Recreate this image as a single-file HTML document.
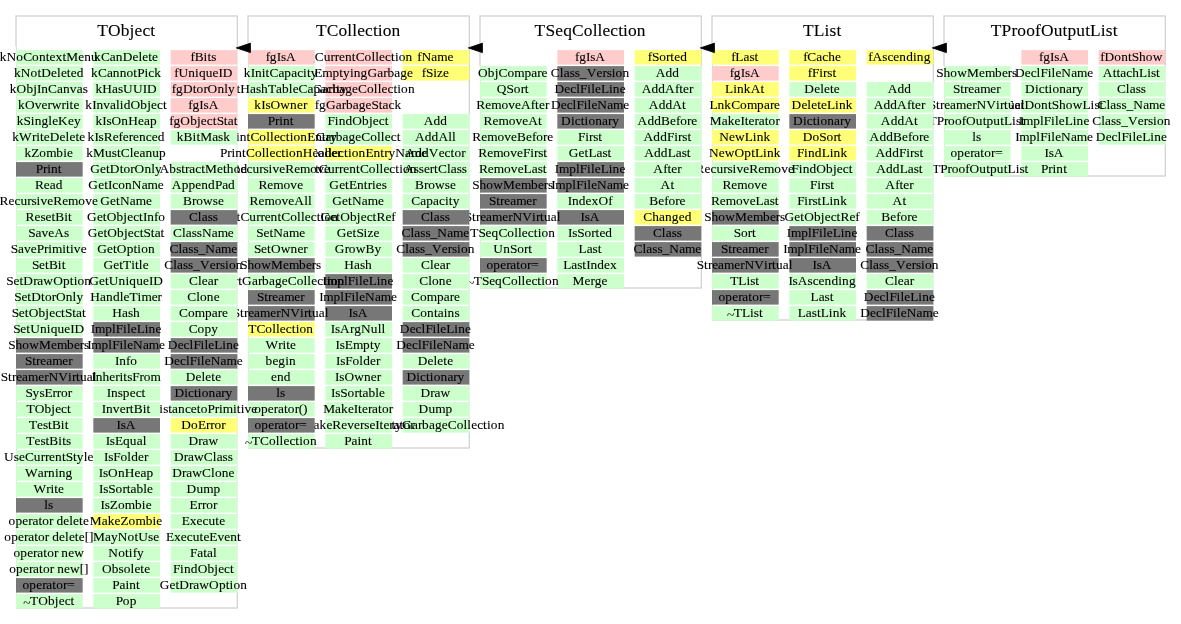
<!DOCTYPE html>
<html><head><meta charset="utf-8"><title>TProofOutputList inheritance chart</title>
<style>
html,body{margin:0;padding:0;background:#fff}
body{width:1181px;height:624px;overflow:hidden}
svg{display:block;font-family:"Liberation Serif","Times New Roman",Times,serif}
.g{fill:#ccffcc}.p{fill:#ffcccc}.y{fill:#ffff77}.d{fill:#777777}
.b{fill:none;stroke:#d3d3d3;stroke-width:1.333}
text{fill:#000;font-size:13.33px;white-space:pre;stroke:#000;stroke-width:0.1px}
.t{font-size:17.4px}
</style></head><body>
<svg width="1181" height="624" viewBox="0 0 1181 624">
<rect x="0" y="0" width="1181" height="624" fill="#fff"/>
<rect class="b" x="16" y="16" width="221.34" height="592"/>
<rect x="15" y="46.3" width="1" height="562.3" fill="#fff"/>
<rect x="237.34" y="49.8" width="1" height="542.8" fill="#fff"/>
<text class="t" x="97.17 107.98 120.76 129.61 134.53 142.39 150.25" y="35.7">TObject</text>
<rect class="b" x="248" y="16" width="221.34" height="432"/>
<rect x="247" y="46.3" width="1" height="402.3" fill="#fff"/>
<rect x="469.34" y="113.8" width="1" height="318.8" fill="#fff"/>
<text class="t" x="315.89 326.7 338.51 347.36 352.27 357.19 365.05 372.91 377.83 382.75 391.6" y="35.7">TCollection</text>
<rect class="b" x="480" y="16" width="221.34" height="272"/>
<rect x="479" y="65.8" width="1" height="222.8" fill="#fff"/>
<rect x="701.34" y="65.8" width="1" height="190.8" fill="#fff"/>
<text class="t" x="534.61 545.43 555.27 563.13 571.98 583.78 592.63 597.55 602.47 610.33 618.19 623.11 628.02 636.87" y="35.7">TSeqCollection</text>
<rect class="b" x="712" y="16" width="221.34" height="304"/>
<rect x="711" y="46.3" width="1" height="274.3" fill="#fff"/>
<rect x="933.34" y="81.8" width="1" height="238.8" fill="#fff"/>
<text class="t" x="802.99 813.81 824.62 829.54 836.43" y="35.7">TList</text>
<rect class="b" x="944" y="16" width="221.34" height="160"/>
<rect x="943" y="65.8" width="1" height="110.8" fill="#fff"/>
<rect x="1165.34" y="65.8" width="1" height="78.8" fill="#fff"/>
<text class="t" x="990.74 1001.56 1011.4 1017.29 1026.14 1034.99 1040.89 1053.67 1062.52 1067.44 1076.29 1085.14 1090.06 1100.87 1105.79 1112.68" y="35.7">TProofOutputList</text>
<g>
<rect class="p" x="1098.67" y="50.1" width="66.67" height="14.5"/><text x="1100.28 1104.5 1114.31 1121.15 1127.98 1131.83 1139.04 1145.87 1152.71" y="60.7">fDontShow</text>
<rect class="g" x="1098.67" y="66.1" width="66.67" height="14.5"/><text x="1102.83 1112.65 1116.5 1120.35 1126.31 1132.27 1139.1 1147.17 1151.03 1156.12" y="76.7">AttachList</text>
<rect class="g" x="1098.67" y="82.1" width="66.67" height="14.5"/><text x="1116.93 1125.87 1129.73 1135.69 1140.78" y="92.7">Class</text>
<rect class="g" x="1098.67" y="98.1" width="66.67" height="14.5"/><text x="1097.55 1106.5 1110.35 1116.31 1121.4 1126.5 1133.33 1143.15 1149.11 1159.29" y="108.7">Class_Name</text>
<rect class="g" x="1098.67" y="114.1" width="66.67" height="14.5"/><text x="1092.21 1101.15 1105.01 1110.97 1116.06 1121.15 1127.99 1137.8 1143.76 1147.98 1153.08 1156.93 1163.76" y="124.7">Class_Version</text>
<rect class="g" x="1098.67" y="130.1" width="66.67" height="14.5"/><text x="1095.81 1105.63 1111.59 1117.55 1121.4 1128.61 1132.46 1136.31 1142.27 1150.34 1154.2 1161.03" y="140.7">DeclFileLine</text>
</g>
<g>
<rect class="p" x="1021.33" y="50.1" width="66.67" height="14.5"/><text x="1038.98 1043.2 1050.03 1054.25 1059.34" y="60.7">fgIsA</text>
<rect class="g" x="1021.33" y="66.1" width="66.67" height="14.5"/><text x="1014.88 1024.7 1030.65 1036.61 1040.47 1047.67 1051.53 1055.38 1061.34 1071.15 1077.11 1087.3" y="76.7">DeclFileName</text>
<rect class="g" x="1021.33" y="82.1" width="66.67" height="14.5"/><text x="1025.06 1034.88 1038.73 1044.69 1048.54 1052.39 1059.23 1066.06 1072.02 1076.24" y="92.7">Dictionary</text>
<rect class="g" x="1021.33" y="98.1" width="66.67" height="14.5"/><text x="1004.81 1014.62 1020.58 1024.43 1034.25 1041.08 1047.92 1051.77 1058.98 1065.81 1072.64 1082.46 1090.53 1094.38 1099.48" y="108.7">GetDontShowList</text>
<rect class="g" x="1021.33" y="114.1" width="66.67" height="14.5"/><text x="1018.73 1022.95 1033.13 1039.97 1043.82 1051.03 1054.88 1058.73 1064.69 1072.76 1076.62 1083.45" y="124.7">ImplFileLine</text>
<rect class="g" x="1021.33" y="130.1" width="66.67" height="14.5"/><text x="1015.13 1019.35 1029.53 1036.37 1040.22 1047.43 1051.28 1055.13 1061.09 1070.9 1076.86 1087.05" y="140.7">ImplFileName</text>
<rect class="g" x="1021.33" y="146.1" width="66.67" height="14.5"/><text x="1044.5 1048.72 1053.82" y="156.7">IsA</text>
<rect class="g" x="1021.33" y="162.1" width="66.67" height="14.5"/><text x="1041.09 1048.29 1052.51 1056.37 1063.2" y="172.7">Print</text>
</g>
<g>
<rect class="g" x="944" y="66.1" width="66.67" height="14.5"/><text x="936.3 943.51 950.34 957.18 966.99 978.92 984.88 995.06 1001.9 1007.85 1012.07" y="76.7">ShowMembers</text>
<rect class="g" x="944" y="82.1" width="66.67" height="14.5"/><text x="952.95 960.16 964.01 968.23 974.19 980.15 990.34 996.3" y="92.7">Streamer</text>
<rect class="g" x="944" y="98.1" width="66.67" height="14.5"/><text x="928.85 936.06 939.91 944.13 950.09 956.05 966.24 972.2 976.42 986.23 996.05 999.9 1004.12 1007.97 1014.8 1020.76" y="108.7">StreamerNVirtual</text>
<rect class="g" x="944" y="114.1" width="66.67" height="14.5"/><text x="928.6 936.67 943.88 948.1 954.93 961.76 965.98 975.8 982.63 986.48 993.32 1000.15 1004 1012.07 1015.93 1021.02" y="124.7">TProofOutputList</text>
<rect class="g" x="944" y="130.1" width="66.67" height="14.5"/><text x="972.26 976.11" y="140.7">ls</text>
<rect class="g" x="944" y="146.1" width="66.67" height="14.5"/><text x="950.5 957.33 964.17 970.13 974.35 980.3 984.16 990.99 995.21" y="156.7">operator=</text>
<rect class="g" x="944" y="162.1" width="66.67" height="14.5"/><text x="925.24 932.15 940.22 947.43 951.65 958.48 965.32 969.54 979.35 986.18 990.04 996.87 1003.7 1007.56 1015.63 1019.48 1024.57" y="172.7"><tspan dy="1.9">~</tspan><tspan dy="-1.9">TProofOutputList</tspan></text>
</g>
<g>
<rect class="y" x="866.67" y="50.1" width="66.67" height="14.5"/><text x="868.29 872.51 882.32 887.41 893.37 899.33 906.17 913 916.85 923.68" y="60.7">fAscending</text>
<rect class="g" x="866.67" y="82.1" width="66.67" height="14.5"/><text x="887.66 897.48 904.31" y="92.7">Add</text>
<rect class="g" x="866.67" y="98.1" width="66.67" height="14.5"/><text x="873.63 883.44 890.28 897.11 906.92 911.14 915 920.95" y="108.7">AddAfter</text>
<rect class="g" x="866.67" y="114.1" width="66.67" height="14.5"/><text x="880.83 890.64 897.48 904.31 914.12" y="124.7">AddAt</text>
<rect class="g" x="866.67" y="130.1" width="66.67" height="14.5"/><text x="869.59 879.41 886.24 893.07 902.02 907.98 912.2 919.03 923.25" y="140.7">AddBefore</text>
<rect class="g" x="866.67" y="146.1" width="66.67" height="14.5"/><text x="875.55 885.36 892.2 899.03 906.24 910.09 914.31 919.4" y="156.7">AddFirst</text>
<rect class="g" x="866.67" y="162.1" width="66.67" height="14.5"/><text x="876.17 885.99 892.82 899.65 907.73 913.68 918.78" y="172.7">AddLast</text>
<rect class="g" x="866.67" y="178.1" width="66.67" height="14.5"/><text x="885.37 895.18 899.4 903.26 909.21" y="188.7">After</text>
<rect class="g" x="866.67" y="194.1" width="66.67" height="14.5"/><text x="892.57 902.38" y="204.7">At</text>
<rect class="g" x="866.67" y="210.1" width="66.67" height="14.5"/><text x="881.33 890.28 896.24 900.46 907.29 911.51" y="220.7">Before</text>
<rect class="d" x="866.67" y="226.1" width="66.67" height="14.5"/><text x="884.93 893.87 897.73 903.69 908.78" y="236.7">Class</text>
<rect class="d" x="866.67" y="242.1" width="66.67" height="14.5"/><text x="865.55 874.5 878.35 884.31 889.4 894.5 901.33 911.15 917.11 927.29" y="252.7">Class_Name</text>
<rect class="d" x="866.67" y="258.1" width="66.67" height="14.5"/><text x="860.21 869.15 873.01 878.97 884.06 889.15 895.99 905.8 911.76 915.98 921.08 924.93 931.76" y="268.7">Class_Version</text>
<rect class="g" x="866.67" y="274.1" width="66.67" height="14.5"/><text x="884.93 893.88 897.73 903.69 909.65" y="284.7">Clear</text>
<rect class="d" x="866.67" y="290.1" width="66.67" height="14.5"/><text x="863.82 873.63 879.59 885.55 889.4 896.61 900.46 904.31 910.27 918.34 922.2 929.03" y="300.7">DeclFileLine</text>
<rect class="d" x="866.67" y="306.1" width="66.67" height="14.5"/><text x="860.21 870.03 875.99 881.95 885.8 893.01 896.86 900.71 906.67 916.48 922.44 932.63" y="316.7">DeclFileName</text>
</g>
<g>
<rect class="y" x="789.33" y="50.1" width="66.67" height="14.5"/><text x="803.13 807.35 816.3 822.26 828.21 835.05" y="60.7">fCache</text>
<rect class="y" x="789.33" y="66.1" width="66.67" height="14.5"/><text x="807.84 812.06 819.27 823.12 827.34 832.44" y="76.7">fFirst</text>
<rect class="g" x="789.33" y="82.1" width="66.67" height="14.5"/><text x="804.37 814.18 820.14 824 829.95 833.81" y="92.7">Delete</text>
<rect class="y" x="789.33" y="98.1" width="66.67" height="14.5"/><text x="791.57 801.39 807.35 811.2 817.16 821.01 826.97 835.04 838.89 845.73" y="108.7">DeleteLink</text>
<rect class="d" x="789.33" y="114.1" width="66.67" height="14.5"/><text x="793.06 802.88 806.73 812.69 816.54 820.39 827.23 834.06 840.02 844.24" y="124.7">Dictionary</text>
<rect class="y" x="789.33" y="130.1" width="66.67" height="14.5"/><text x="802.69 812.5 819.34 826.54 833.38 837.6" y="140.7">DoSort</text>
<rect class="y" x="789.33" y="146.1" width="66.67" height="14.5"/><text x="796.91 804.12 807.97 814.8 821.64 829.71 833.56 840.39" y="156.7">FindLink</text>
<rect class="g" x="789.33" y="162.1" width="66.67" height="14.5"/><text x="791.57 798.78 802.63 809.46 816.3 826.11 832.94 836.8 842.76 848.71" y="172.7">FindObject</text>
<rect class="g" x="789.33" y="178.1" width="66.67" height="14.5"/><text x="809.95 817.16 821.01 825.23 830.33" y="188.7">First</text>
<rect class="g" x="789.33" y="194.1" width="66.67" height="14.5"/><text x="797.16 804.37 808.22 812.44 817.53 821.39 829.46 833.31 840.14" y="204.7">FirstLink</text>
<rect class="g" x="789.33" y="210.1" width="66.67" height="14.5"/><text x="784.56 794.37 800.33 804.18 814 820.83 824.68 830.64 836.6 840.45 849.4 855.36" y="220.7">GetObjectRef</text>
<rect class="d" x="789.33" y="226.1" width="66.67" height="14.5"/><text x="786.73 790.95 801.13 807.97 811.82 819.03 822.88 826.73 832.69 840.76 844.62 851.45" y="236.7">ImplFileLine</text>
<rect class="d" x="789.33" y="242.1" width="66.67" height="14.5"/><text x="783.13 787.35 797.53 804.37 808.22 815.43 819.28 823.13 829.09 838.9 844.86 855.05" y="252.7">ImplFileName</text>
<rect class="d" x="789.33" y="258.1" width="66.67" height="14.5"/><text x="812.5 816.72 821.82" y="268.7">IsA</text>
<rect class="g" x="789.33" y="274.1" width="66.67" height="14.5"/><text x="788.4 792.62 797.72 807.53 812.63 818.59 824.55 831.38 838.21 842.06 848.9" y="284.7">IsAscending</text>
<rect class="g" x="789.33" y="290.1" width="66.67" height="14.5"/><text x="810.58 818.65 824.61 829.7" y="300.7">Last</text>
<rect class="g" x="789.33" y="306.1" width="66.67" height="14.5"/><text x="797.78 805.86 811.81 816.91 820.76 828.83 832.69 839.52" y="316.7">LastLink</text>
</g>
<g>
<rect class="y" x="712" y="50.1" width="66.67" height="14.5"/><text x="731.14 735.36 743.43 749.39 754.48" y="60.7">fLast</text>
<rect class="p" x="712" y="66.1" width="66.67" height="14.5"/><text x="729.64 733.86 740.7 744.92 750.01" y="76.7">fgIsA</text>
<rect class="y" x="712" y="82.1" width="66.67" height="14.5"/><text x="725.11 733.18 737.03 743.86 750.7 760.51" y="92.7">LinkAt</text>
<rect class="y" x="712" y="98.1" width="66.67" height="14.5"/><text x="709.4 717.47 724.3 731.14 740.08 746.92 757.1 763.93 769.89 774.11" y="108.7">LnkCompare</text>
<rect class="g" x="712" y="114.1" width="66.67" height="14.5"/><text x="709.84 721.77 727.72 734.56 740.52 744.74 748.59 754.55 758.77 764.73 768.58 775.41" y="124.7">MakeIterator</text>
<rect class="y" x="712" y="130.1" width="66.67" height="14.5"/><text x="719.15 728.96 734.92 744.73 752.81 756.66 763.49" y="140.7">NewLink</text>
<rect class="y" x="712" y="146.1" width="66.67" height="14.5"/><text x="708.9 718.71 724.67 734.48 744.3 751.13 754.98 763.06 766.91 773.74" y="156.7">NewOptLink</text>
<rect class="g" x="712" y="162.1" width="66.67" height="14.5"/><text x="695.55 704.49 710.45 716.41 723.25 727.47 732.56 736.41 743.25 749.2 758.15 764.11 774.3 781.13 787.96" y="172.7">RecursiveRemove</text>
<rect class="g" x="712" y="178.1" width="66.67" height="14.5"/><text x="722.38 731.32 737.28 747.47 754.3 761.13" y="188.7">Remove</text>
<rect class="g" x="712" y="194.1" width="66.67" height="14.5"/><text x="710.89 719.83 725.79 735.98 742.81 749.65 755.6 763.68 769.64 774.73" y="204.7">RemoveLast</text>
<rect class="d" x="712" y="210.1" width="66.67" height="14.5"/><text x="704.3 711.51 718.34 725.18 734.99 746.92 752.88 763.06 769.9 775.85 780.07" y="220.7">ShowMembers</text>
<rect class="g" x="712" y="226.1" width="66.67" height="14.5"/><text x="733.68 740.89 747.72 751.94" y="236.7">Sort</text>
<rect class="d" x="712" y="242.1" width="66.67" height="14.5"/><text x="720.95 728.16 732.01 736.23 742.19 748.15 758.34 764.3" y="252.7">Streamer</text>
<rect class="d" x="712" y="258.1" width="66.67" height="14.5"/><text x="696.85 704.06 707.91 712.13 718.09 724.05 734.24 740.2 744.42 754.23 764.05 767.9 772.12 775.97 782.8 788.76" y="268.7">StreamerNVirtual</text>
<rect class="g" x="712" y="274.1" width="66.67" height="14.5"/><text x="730.26 738.34 746.41 750.26 755.35" y="284.7">TList</text>
<rect class="d" x="712" y="290.1" width="66.67" height="14.5"/><text x="718.5 725.33 732.17 738.13 742.35 748.3 752.16 758.99 763.21" y="300.7">operator=</text>
<rect class="g" x="712" y="306.1" width="66.67" height="14.5"/><text x="726.91 733.82 741.89 749.96 753.81 758.91" y="316.7"><tspan dy="1.9">~</tspan><tspan dy="-1.9">TList</tspan></text>
</g>
<g>
<rect class="y" x="634.67" y="50.1" width="66.67" height="14.5"/><text x="647.84 652.06 659.27 666.1 670.32 674.17 680.13" y="60.7">fSorted</text>
<rect class="g" x="634.67" y="66.1" width="66.67" height="14.5"/><text x="655.66 665.48 672.31" y="76.7">Add</text>
<rect class="g" x="634.67" y="82.1" width="66.67" height="14.5"/><text x="641.63 651.44 658.28 665.11 674.92 679.14 683 688.95" y="92.7">AddAfter</text>
<rect class="g" x="634.67" y="98.1" width="66.67" height="14.5"/><text x="648.83 658.64 665.48 672.31 682.12" y="108.7">AddAt</text>
<rect class="g" x="634.67" y="114.1" width="66.67" height="14.5"/><text x="637.59 647.41 654.24 661.07 670.02 675.98 680.2 687.03 691.25" y="124.7">AddBefore</text>
<rect class="g" x="634.67" y="130.1" width="66.67" height="14.5"/><text x="643.55 653.36 660.2 667.03 674.24 678.09 682.31 687.4" y="140.7">AddFirst</text>
<rect class="g" x="634.67" y="146.1" width="66.67" height="14.5"/><text x="644.17 653.99 660.82 667.65 675.73 681.68 686.78" y="156.7">AddLast</text>
<rect class="g" x="634.67" y="162.1" width="66.67" height="14.5"/><text x="653.37 663.18 667.4 671.26 677.21" y="172.7">After</text>
<rect class="g" x="634.67" y="178.1" width="66.67" height="14.5"/><text x="660.57 670.38" y="188.7">At</text>
<rect class="g" x="634.67" y="194.1" width="66.67" height="14.5"/><text x="649.33 658.28 664.24 668.46 675.29 679.51" y="204.7">Before</text>
<rect class="y" x="634.67" y="210.1" width="66.67" height="14.5"/><text x="643.3 652.25 659.08 665.04 671.87 678.71 684.67" y="220.7">Changed</text>
<rect class="d" x="634.67" y="226.1" width="66.67" height="14.5"/><text x="652.93 661.87 665.73 671.69 676.78" y="236.7">Class</text>
<rect class="d" x="634.67" y="242.1" width="66.67" height="14.5"/><text x="633.55 642.5 646.35 652.31 657.4 662.5 669.33 679.15 685.11 695.29" y="252.7">Class_Name</text>
</g>
<g>
<rect class="p" x="557.33" y="50.1" width="66.67" height="14.5"/><text x="574.98 579.2 586.03 590.25 595.34" y="60.7">fgIsA</text>
<rect class="d" x="557.33" y="66.1" width="66.67" height="14.5"/><text x="550.87 559.82 563.67 569.63 574.73 579.82 586.65 596.47 602.43 606.65 611.74 615.59 622.43" y="76.7">Class_Version</text>
<rect class="d" x="557.33" y="82.1" width="66.67" height="14.5"/><text x="554.48 564.3 570.26 576.21 580.07 587.27 591.13 594.98 600.94 609.01 612.86 619.7" y="92.7">DeclFileLine</text>
<rect class="d" x="557.33" y="98.1" width="66.67" height="14.5"/><text x="550.88 560.7 566.65 572.61 576.47 583.67 587.53 591.38 597.34 607.15 613.11 623.3" y="108.7">DeclFileName</text>
<rect class="d" x="557.33" y="114.1" width="66.67" height="14.5"/><text x="561.06 570.88 574.73 580.69 584.54 588.39 595.23 602.06 608.02 612.24" y="124.7">Dictionary</text>
<rect class="g" x="557.33" y="130.1" width="66.67" height="14.5"/><text x="577.95 585.16 589.01 593.23 598.33" y="140.7">First</text>
<rect class="g" x="557.33" y="146.1" width="66.67" height="14.5"/><text x="568.77 578.58 584.54 588.39 596.46 602.42 607.52" y="156.7">GetLast</text>
<rect class="d" x="557.33" y="162.1" width="66.67" height="14.5"/><text x="554.73 558.95 569.13 575.97 579.82 587.03 590.88 594.73 600.69 608.76 612.62 619.45" y="172.7">ImplFileLine</text>
<rect class="d" x="557.33" y="178.1" width="66.67" height="14.5"/><text x="551.13 555.35 565.53 572.37 576.22 583.43 587.28 591.13 597.09 606.9 612.86 623.05" y="188.7">ImplFileName</text>
<rect class="g" x="557.33" y="194.1" width="66.67" height="14.5"/><text x="567.71 571.93 578.76 585.6 591.56 598.39 608.2" y="204.7">IndexOf</text>
<rect class="d" x="557.33" y="210.1" width="66.67" height="14.5"/><text x="580.5 584.72 589.82" y="220.7">IsA</text>
<rect class="g" x="557.33" y="226.1" width="66.67" height="14.5"/><text x="567.96 572.18 577.27 584.48 591.31 595.53 599.39 605.34" y="236.7">IsSorted</text>
<rect class="g" x="557.33" y="242.1" width="66.67" height="14.5"/><text x="578.58 586.65 592.61 597.7" y="252.7">Last</text>
<rect class="g" x="557.33" y="258.1" width="66.67" height="14.5"/><text x="563.24 571.31 577.27 582.37 586.22 590.44 597.27 604.1 610.06" y="268.7">LastIndex</text>
<rect class="g" x="557.33" y="274.1" width="66.67" height="14.5"/><text x="572.62 584.55 590.51 594.73 601.56" y="284.7">Merge</text>
</g>
<g>
<rect class="g" x="480" y="66.1" width="66.67" height="14.5"/><text x="478.02 487.83 494.66 498.52 507.46 514.3 524.48 531.32 537.27 541.49" y="76.7">ObjCompare</text>
<rect class="g" x="480" y="82.1" width="66.67" height="14.5"/><text x="496.77 506.59 513.79 520.63 524.85" y="92.7">QSort</text>
<rect class="g" x="480" y="98.1" width="66.67" height="14.5"/><text x="476.34 485.29 491.25 501.43 508.27 515.1 521.06 530.87 535.09 538.95 544.91" y="108.7">RemoveAfter</text>
<rect class="g" x="480" y="114.1" width="66.67" height="14.5"/><text x="483.54 492.49 498.45 508.63 515.47 522.3 528.26 538.07" y="124.7">RemoveAt</text>
<rect class="g" x="480" y="130.1" width="66.67" height="14.5"/><text x="472.31 481.25 487.21 497.4 504.23 511.07 517.02 525.97 531.93 536.15 542.98 547.2" y="140.7">RemoveBefore</text>
<rect class="g" x="480" y="146.1" width="66.67" height="14.5"/><text x="478.26 487.21 493.17 503.35 510.19 517.02 522.98 530.19 534.04 538.26 543.35" y="156.7">RemoveFirst</text>
<rect class="g" x="480" y="162.1" width="66.67" height="14.5"/><text x="478.89 487.83 493.79 503.98 510.81 517.65 523.6 531.68 537.64 542.73" y="172.7">RemoveLast</text>
<rect class="d" x="480" y="178.1" width="66.67" height="14.5"/><text x="472.3 479.51 486.34 493.18 502.99 514.92 520.88 531.06 537.9 543.85 548.07" y="188.7">ShowMembers</text>
<rect class="d" x="480" y="194.1" width="66.67" height="14.5"/><text x="488.95 496.16 500.01 504.23 510.19 516.15 526.34 532.3" y="204.7">Streamer</text>
<rect class="d" x="480" y="210.1" width="66.67" height="14.5"/><text x="464.85 472.06 475.91 480.13 486.09 492.05 502.24 508.2 512.42 522.23 532.05 535.9 540.12 543.97 550.8 556.76" y="220.7">StreamerNVirtual</text>
<rect class="g" x="480" y="226.1" width="66.67" height="14.5"/><text x="470.31 478.38 485.59 491.55 498.38 507.33 514.16 518.02 521.87 527.83 533.79 537.64 541.49 548.32" y="236.7">TSeqCollection</text>
<rect class="g" x="480" y="242.1" width="66.67" height="14.5"/><text x="493.35 503.17 510 517.21 524.04 528.26" y="252.7">UnSort</text>
<rect class="d" x="480" y="258.1" width="66.67" height="14.5"/><text x="486.5 493.33 500.17 506.13 510.35 516.3 520.16 526.99 531.21" y="268.7">operator=</text>
<rect class="g" x="480" y="274.1" width="66.67" height="14.5"/><text x="466.96 473.87 481.94 489.15 495.1 501.94 510.88 517.72 521.57 525.42 531.38 537.34 541.19 545.04 551.88" y="284.7"><tspan dy="1.9">~</tspan><tspan dy="-1.9">TSeqCollection</tspan></text>
</g>
<g>
<rect class="y" x="402.67" y="50.1" width="66.67" height="14.5"/><text x="417.33 421.55 431.37 437.33 447.51" y="60.7">fName</text>
<rect class="y" x="402.67" y="66.1" width="66.67" height="14.5"/><text x="421.8 426.02 433.23 437.08 443.04" y="76.7">fSize</text>
<rect class="g" x="402.67" y="114.1" width="66.67" height="14.5"/><text x="423.66 433.48 440.31" y="124.7">Add</text>
<rect class="g" x="402.67" y="130.1" width="66.67" height="14.5"/><text x="414.9 424.72 431.55 438.38 448.2 452.05" y="140.7">AddAll</text>
<rect class="g" x="402.67" y="146.1" width="66.67" height="14.5"/><text x="405.34 415.16 421.99 428.82 438.64 444.6 450.56 454.41 461.24" y="156.7">AddVector</text>
<rect class="g" x="402.67" y="162.1" width="66.67" height="14.5"/><text x="403.91 413.73 418.82 423.91 429.87 434.09 437.95 446.89 450.74 456.7 461.8" y="172.7">AssertClass</text>
<rect class="g" x="402.67" y="178.1" width="66.67" height="14.5"/><text x="414.97 423.91 428.13 434.97 444.78 449.88" y="188.7">Browse</text>
<rect class="g" x="402.67" y="194.1" width="66.67" height="14.5"/><text x="411.3 420.25 426.21 433.04 439 444.96 448.81 452.67" y="204.7">Capacity</text>
<rect class="d" x="402.67" y="210.1" width="66.67" height="14.5"/><text x="420.93 429.87 433.73 439.69 444.78" y="220.7">Class</text>
<rect class="d" x="402.67" y="226.1" width="66.67" height="14.5"/><text x="401.55 410.5 414.35 420.31 425.4 430.5 437.33 447.15 453.11 463.29" y="236.7">Class_Name</text>
<rect class="d" x="402.67" y="242.1" width="66.67" height="14.5"/><text x="396.21 405.15 409.01 414.97 420.06 425.15 431.99 441.8 447.76 451.98 457.08 460.93 467.76" y="252.7">Class_Version</text>
<rect class="g" x="402.67" y="258.1" width="66.67" height="14.5"/><text x="420.93 429.88 433.73 439.69 445.65" y="268.7">Clear</text>
<rect class="g" x="402.67" y="274.1" width="66.67" height="14.5"/><text x="419.19 428.14 431.99 438.82 445.65" y="284.7">Clone</text>
<rect class="g" x="402.67" y="290.1" width="66.67" height="14.5"/><text x="410.93 419.88 426.71 436.9 443.73 449.69 453.91" y="300.7">Compare</text>
<rect class="g" x="402.67" y="306.1" width="66.67" height="14.5"/><text x="411.3 420.25 427.08 433.91 437.76 443.72 447.58 454.41" y="316.7">Contains</text>
<rect class="d" x="402.67" y="322.1" width="66.67" height="14.5"/><text x="399.82 409.63 415.59 421.55 425.4 432.61 436.46 440.31 446.27 454.34 458.2 465.03" y="332.7">DeclFileLine</text>
<rect class="d" x="402.67" y="338.1" width="66.67" height="14.5"/><text x="396.21 406.03 411.99 417.95 421.8 429.01 432.86 436.71 442.67 452.48 458.44 468.63" y="348.7">DeclFileName</text>
<rect class="g" x="402.67" y="354.1" width="66.67" height="14.5"/><text x="417.7 427.52 433.48 437.33 443.29 447.14" y="364.7">Delete</text>
<rect class="d" x="402.67" y="370.1" width="66.67" height="14.5"/><text x="406.4 416.21 420.06 426.02 429.87 433.73 440.56 447.39 453.35 457.57" y="380.7">Dictionary</text>
<rect class="g" x="402.67" y="386.1" width="66.67" height="14.5"/><text x="420.5 430.31 434.53 440.49" y="396.7">Draw</text>
<rect class="g" x="402.67" y="402.1" width="66.67" height="14.5"/><text x="418.57 428.38 435.22 445.4" y="412.7">Dump</text>
<rect class="g" x="402.67" y="418.1" width="66.67" height="14.5"/><text x="366.34 374.41 384.6 391.43 395.28 402.11 411.93 417.89 422.11 428.94 434.9 441.73 447.69 456.64 463.47 467.32 471.18 477.14 483.09 486.95 490.8 497.63" y="428.7">EmptyGarbageCollection</text>
</g>
<g>
<rect class="p" x="325.33" y="50.1" width="66.67" height="14.5"/><text x="303.72 307.94 314.78 323.72 330.56 334.78 339 344.95 351.79 355.64 364.59 371.42 375.27 379.12 385.08 391.04 394.89 398.75 405.58" y="60.7">fgCurrentCollection</text>
<rect class="p" x="325.33" y="66.1" width="66.67" height="14.5"/><text x="303.1 307.32 314.16 322.23 332.42 339.25 343.1 349.93 353.79 360.62 367.45 377.27 383.23 387.45 394.28 400.24 407.07" y="76.7">fgEmptyingGarbage</text>
<rect class="p" x="325.33" y="82.1" width="66.67" height="14.5"/><text x="301.37 305.59 312.42 322.23 328.19 332.41 339.25 345.2 352.04 358 366.94 373.78 377.63 381.48 387.44 393.4 397.25 401.1 407.94" y="92.7">fgGarbageCollection</text>
<rect class="p" x="325.33" y="98.1" width="66.67" height="14.5"/><text x="314.85 319.07 325.9 335.71 341.67 345.89 352.73 358.69 365.52 371.48 378.69 382.54 388.5 394.46" y="108.7">fgGarbageStack</text>
<rect class="g" x="325.33" y="114.1" width="66.67" height="14.5"/><text x="327.57 334.78 338.63 345.46 352.3 362.11 368.94 372.8 378.76 384.71" y="124.7">FindObject</text>
<rect class="g" x="325.33" y="130.1" width="66.67" height="14.5"/><text x="315.65 325.47 331.43 335.65 342.48 348.44 355.27 361.23 370.18 377.01 380.86 384.71 390.67 396.63" y="140.7">GarbageCollect</text>
<rect class="y" x="325.33" y="146.1" width="66.67" height="14.5"/><text x="289 298.82 304.78 308.63 317.58 324.41 328.26 332.11 338.07 344.03 347.88 351.74 358.57 365.4 373.48 380.31 384.16 388.38 395.21 405.03 410.99 421.17" y="156.7">GetCollectionEntryName</text>
<rect class="g" x="325.33" y="162.1" width="66.67" height="14.5"/><text x="299.44 309.25 315.21 319.06 328.01 334.84 339.06 343.28 349.24 356.07 359.93 368.87 375.71 379.56 383.41 389.37 395.33 399.18 403.03 409.87" y="172.7">GetCurrentCollection</text>
<rect class="g" x="325.33" y="178.1" width="66.67" height="14.5"/><text x="329.31 339.13 345.09 348.94 357.01 363.84 367.7 371.92 375.77 381.73" y="188.7">GetEntries</text>
<rect class="g" x="325.33" y="194.1" width="66.67" height="14.5"/><text x="332.3 342.11 348.07 351.92 361.74 367.7 377.88" y="204.7">GetName</text>
<rect class="g" x="325.33" y="210.1" width="66.67" height="14.5"/><text x="320.56 330.37 336.33 340.18 350 356.83 360.68 366.64 372.6 376.45 385.4 391.36" y="220.7">GetObjectRef</text>
<rect class="g" x="325.33" y="226.1" width="66.67" height="14.5"/><text x="336.77 346.58 352.54 356.39 363.6 367.45 373.41" y="236.7">GetSize</text>
<rect class="g" x="325.33" y="242.1" width="66.67" height="14.5"/><text x="334.84 344.65 348.87 355.7 365.52 374.47" y="252.7">GrowBy</text>
<rect class="g" x="325.33" y="258.1" width="66.67" height="14.5"/><text x="344.22 354.03 359.99 365.09" y="268.7">Hash</text>
<rect class="d" x="325.33" y="274.1" width="66.67" height="14.5"/><text x="322.73 326.95 337.13 343.97 347.82 355.03 358.88 362.73 368.69 376.76 380.62 387.45" y="284.7">ImplFileLine</text>
<rect class="d" x="325.33" y="290.1" width="66.67" height="14.5"/><text x="319.13 323.35 333.53 340.37 344.22 351.43 355.28 359.13 365.09 374.9 380.86 391.05" y="300.7">ImplFileName</text>
<rect class="d" x="325.33" y="306.1" width="66.67" height="14.5"/><text x="348.5 352.72 357.82" y="316.7">IsA</text>
<rect class="g" x="325.33" y="322.1" width="66.67" height="14.5"/><text x="330.8 335.02 340.12 349.93 354.15 360.98 370.8 377.63 381.48" y="332.7">IsArgNull</text>
<rect class="g" x="325.33" y="338.1" width="66.67" height="14.5"/><text x="335.52 339.74 344.84 352.91 363.09 369.93 373.78" y="348.7">IsEmpty</text>
<rect class="g" x="325.33" y="354.1" width="66.67" height="14.5"/><text x="335.96 340.18 345.27 352.48 359.31 363.17 370 375.96" y="364.7">IsFolder</text>
<rect class="g" x="325.33" y="370.1" width="66.67" height="14.5"/><text x="335.09 339.31 344.4 354.22 364.03 370.87 376.83" y="380.7">IsOwner</text>
<rect class="g" x="325.33" y="386.1" width="66.67" height="14.5"/><text x="331.05 335.27 340.37 347.57 354.41 358.63 362.48 368.44 375.27 379.12" y="396.7">IsSortable</text>
<rect class="g" x="325.33" y="402.1" width="66.67" height="14.5"/><text x="323.17 335.1 341.06 347.89 353.85 358.07 361.92 367.88 372.1 378.06 381.91 388.75" y="412.7">MakeIterator</text>
<rect class="g" x="325.33" y="418.1" width="66.67" height="14.5"/><text x="301.69 313.61 319.57 326.41 332.36 341.31 347.27 354.1 360.06 364.28 369.38 375.34 379.56 383.41 389.37 393.59 399.55 403.4 410.23" y="428.7">MakeReverseIterator</text>
<rect class="g" x="325.33" y="434.1" width="66.67" height="14.5"/><text x="344.22 351.42 357.38 361.23 368.07" y="444.7">Paint</text>
</g>
<g>
<rect class="p" x="248" y="50.1" width="66.67" height="14.5"/><text x="265.64 269.86 276.7 280.92 286.01" y="60.7">fgIsA</text>
<rect class="g" x="248" y="66.1" width="66.67" height="14.5"/><text x="243.84 250.68 254.9 261.73 265.58 269.43 278.38 284.34 291.17 297.13 303.09 306.94 310.79" y="76.7">kInitCapacity</text>
<rect class="g" x="248" y="82.1" width="66.67" height="14.5"/><text x="214.65 221.49 225.71 232.54 236.39 240.24 250.06 256.02 261.11 267.95 276.02 281.98 288.81 292.66 298.62 307.57 313.53 320.36 326.32 332.28 336.13 339.98" y="92.7">kInitHashTableCapacity</text>
<rect class="y" x="248" y="98.1" width="66.67" height="14.5"/><text x="254.34 261.17 265.39 270.49 280.3 290.12 296.95 302.91" y="108.7">kIsOwner</text>
<rect class="d" x="248" y="114.1" width="66.67" height="14.5"/><text x="267.75 274.96 279.18 283.03 289.87" y="124.7">Print</text>
<rect class="y" x="248" y="130.1" width="66.67" height="14.5"/><text x="224.46 231.67 235.89 239.74 246.57 250.43 259.37 266.21 270.06 273.91 279.87 285.83 289.68 293.53 300.37 307.2 315.27 322.1 325.96 330.18" y="140.7">PrintCollectionEntry</text>
<rect class="y" x="248" y="146.1" width="66.67" height="14.5"/><text x="219.99 227.2 231.42 235.27 242.11 245.96 254.91 261.74 265.59 269.44 275.4 281.36 285.21 289.07 295.9 302.73 312.55 318.51 324.46 331.3 337.26" y="156.7">PrintCollectionHeader</text>
<rect class="g" x="248" y="162.1" width="66.67" height="14.5"/><text x="231.55 240.49 246.45 252.41 259.25 263.47 268.56 272.41 279.25 285.2 294.15 300.11 310.3 317.13 323.96" y="172.7">RecursiveRemove</text>
<rect class="g" x="248" y="178.1" width="66.67" height="14.5"/><text x="258.38 267.32 273.28 283.47 290.3 297.13" y="188.7">Remove</text>
<rect class="g" x="248" y="194.1" width="66.67" height="14.5"/><text x="249.62 258.56 264.52 274.71 281.54 288.37 294.33 304.15 308" y="204.7">RemoveAll</text>
<rect class="g" x="248" y="210.1" width="66.67" height="14.5"/><text x="223.41 230.61 236.57 240.43 249.37 256.21 260.43 264.65 270.6 277.44 281.29 290.24 297.07 300.92 304.77 310.73 316.69 320.54 324.4 331.23" y="220.7">SetCurrentCollection</text>
<rect class="g" x="248" y="226.1" width="66.67" height="14.5"/><text x="256.27 263.47 269.43 273.29 283.1 289.06 299.24" y="236.7">SetName</text>
<rect class="g" x="248" y="242.1" width="66.67" height="14.5"/><text x="253.9 261.11 267.07 270.92 280.74 290.55 297.39 303.34" y="252.7">SetOwner</text>
<rect class="d" x="248" y="258.1" width="66.67" height="14.5"/><text x="240.3 247.51 254.34 261.18 270.99 282.92 288.88 299.06 305.9 311.85 316.07" y="268.7">ShowMembers</text>
<rect class="g" x="248" y="274.1" width="66.67" height="14.5"/><text x="217.01 224.22 228.07 234.03 238.25 242.1 251.92 257.88 262.1 268.93 274.89 281.72 287.68 296.63 303.46 307.31 311.17 317.13 323.09 326.94 330.79 337.62" y="284.7">StartGarbageCollection</text>
<rect class="d" x="248" y="290.1" width="66.67" height="14.5"/><text x="256.95 264.16 268.01 272.23 278.19 284.15 294.34 300.3" y="300.7">Streamer</text>
<rect class="d" x="248" y="306.1" width="66.67" height="14.5"/><text x="232.85 240.06 243.91 248.13 254.09 260.05 270.24 276.2 280.42 290.23 300.05 303.9 308.12 311.97 318.8 324.76" y="316.7">StreamerNVirtual</text>
<rect class="y" x="248" y="322.1" width="66.67" height="14.5"/><text x="248.31 256.38 265.33 272.16 276.02 279.87 285.83 291.79 295.64 299.49 306.32" y="332.7">TCollection</text>
<rect class="g" x="248" y="338.1" width="66.67" height="14.5"/><text x="265.4 278.19 282.41 286.26 290.11" y="348.7">Write</text>
<rect class="g" x="248" y="354.1" width="66.67" height="14.5"/><text x="265.58 272.41 278.37 285.2 289.06" y="364.7">begin</text>
<rect class="g" x="248" y="370.1" width="66.67" height="14.5"/><text x="270.92 276.88 283.71" y="380.7">end</text>
<rect class="d" x="248" y="386.1" width="66.67" height="14.5"/><text x="276.26 280.11" y="396.7">ls</text>
<rect class="g" x="248" y="402.1" width="66.67" height="14.5"/><text x="254.16 260.99 267.83 273.79 278.01 283.96 287.82 294.65 298.87 303.09" y="412.7">operator()</text>
<rect class="d" x="248" y="418.1" width="66.67" height="14.5"/><text x="254.5 261.33 268.17 274.13 278.35 284.3 288.16 294.99 299.21" y="428.7">operator=</text>
<rect class="g" x="248" y="434.1" width="66.67" height="14.5"/><text x="244.96 251.87 259.94 268.88 275.72 279.57 283.42 289.38 295.34 299.19 303.04 309.88" y="444.7"><tspan dy="1.9">~</tspan><tspan dy="-1.9">TCollection</tspan></text>
</g>
<g>
<rect class="p" x="170.67" y="50.1" width="66.67" height="14.5"/><text x="190.42 194.64 203.59 207.44 211.29" y="60.7">fBits</text>
<rect class="p" x="170.67" y="66.1" width="66.67" height="14.5"/><text x="174.21 178.43 188.25 195.08 198.93 205.76 212.6 218.56 222.78" y="76.7">fUniqueID</text>
<rect class="p" x="170.67" y="82.1" width="66.67" height="14.5"/><text x="171.85 176.07 182.9 192.72 196.57 203.4 207.62 217.44 224.27 228.12" y="92.7">fgDtorOnly</text>
<rect class="p" x="170.67" y="98.1" width="66.67" height="14.5"/><text x="188.31 192.53 199.36 203.58 208.68" y="108.7">fgIsA</text>
<rect class="p" x="170.67" y="114.1" width="66.67" height="14.5"/><text x="169.3 173.52 180.36 190.17 197.01 200.86 206.82 212.78 216.63 223.84 227.69 233.65" y="124.7">fgObjectStat</text>
<rect class="g" x="170.67" y="130.1" width="66.67" height="14.5"/><text x="176.75 183.59 192.53 196.38 200.24 212.16 218.12 223.22" y="140.7">kBitMask</text>
<rect class="g" x="170.67" y="162.1" width="66.67" height="14.5"/><text x="159.49 169.3 176.14 181.23 185.08 189.3 195.26 201.22 205.07 217 222.96 226.81 233.65 240.48" y="172.7">AbstractMethod</text>
<rect class="g" x="170.67" y="178.1" width="66.67" height="14.5"/><text x="171.85 181.66 188.5 195.33 201.29 208.12 214.95 222.16 228.12" y="188.7">AppendPad</text>
<rect class="g" x="170.67" y="194.1" width="66.67" height="14.5"/><text x="182.97 191.91 196.13 202.97 212.78 217.88" y="204.7">Browse</text>
<rect class="d" x="170.67" y="210.1" width="66.67" height="14.5"/><text x="188.93 197.87 201.73 207.69 212.78" y="220.7">Class</text>
<rect class="g" x="170.67" y="226.1" width="66.67" height="14.5"/><text x="172.97 181.92 185.77 191.73 196.82 201.92 211.73 217.69 227.87" y="236.7">ClassName</text>
<rect class="d" x="170.67" y="242.1" width="66.67" height="14.5"/><text x="169.55 178.5 182.35 188.31 193.4 198.5 205.33 215.15 221.11 231.29" y="252.7">Class_Name</text>
<rect class="d" x="170.67" y="258.1" width="66.67" height="14.5"/><text x="164.21 173.15 177.01 182.97 188.06 193.15 199.99 209.8 215.76 219.98 225.08 228.93 235.76" y="268.7">Class_Version</text>
<rect class="g" x="170.67" y="274.1" width="66.67" height="14.5"/><text x="188.93 197.88 201.73 207.69 213.65" y="284.7">Clear</text>
<rect class="g" x="170.67" y="290.1" width="66.67" height="14.5"/><text x="187.19 196.14 199.99 206.82 213.65" y="300.7">Clone</text>
<rect class="g" x="170.67" y="306.1" width="66.67" height="14.5"/><text x="178.93 187.88 194.71 204.9 211.73 217.69 221.91" y="316.7">Compare</text>
<rect class="g" x="170.67" y="322.1" width="66.67" height="14.5"/><text x="188.68 197.62 204.46 211.29" y="332.7">Copy</text>
<rect class="d" x="170.67" y="338.1" width="66.67" height="14.5"/><text x="167.82 177.63 183.59 189.55 193.4 200.61 204.46 208.31 214.27 222.34 226.2 233.03" y="348.7">DeclFileLine</text>
<rect class="d" x="170.67" y="354.1" width="66.67" height="14.5"/><text x="164.21 174.03 179.99 185.95 189.8 197.01 200.86 204.71 210.67 220.48 226.44 236.63" y="364.7">DeclFileName</text>
<rect class="g" x="170.67" y="370.1" width="66.67" height="14.5"/><text x="185.7 195.52 201.48 205.33 211.29 215.14" y="380.7">Delete</text>
<rect class="d" x="170.67" y="386.1" width="66.67" height="14.5"/><text x="174.4 184.21 188.06 194.02 197.87 201.73 208.56 215.39 221.35 225.57" y="396.7">Dictionary</text>
<rect class="g" x="170.67" y="402.1" width="66.67" height="14.5"/><text x="149.49 159.3 163.16 168.25 172.1 178.06 184.9 190.85 196.81 200.67 207.5 214.71 218.93 222.78 232.96 236.82 240.67 244.52 251.35" y="412.7">DistancetoPrimitive</text>
<rect class="y" x="170.67" y="418.1" width="66.67" height="14.5"/><text x="181.29 191.11 197.94 206.01 210.23 214.45 221.29" y="428.7">DoError</text>
<rect class="g" x="170.67" y="434.1" width="66.67" height="14.5"/><text x="188.5 198.31 202.53 208.49" y="444.7">Draw</text>
<rect class="g" x="170.67" y="450.1" width="66.67" height="14.5"/><text x="174.02 183.84 188.06 194.02 203.83 212.78 216.63 222.59 227.68" y="460.7">DrawClass</text>
<rect class="g" x="170.67" y="466.1" width="66.67" height="14.5"/><text x="172.29 182.1 186.32 192.28 202.09 211.04 214.89 221.73 228.56" y="476.7">DrawClone</text>
<rect class="g" x="170.67" y="482.1" width="66.67" height="14.5"/><text x="186.57 196.38 203.22 213.4" y="492.7">Dump</text>
<rect class="g" x="170.67" y="498.1" width="66.67" height="14.5"/><text x="189.62 197.69 201.91 206.13 212.96" y="508.7">Error</text>
<rect class="g" x="170.67" y="514.1" width="66.67" height="14.5"/><text x="181.67 189.74 196.57 202.53 208.49 215.32 219.18" y="524.7">Execute</text>
<rect class="g" x="170.67" y="530.1" width="66.67" height="14.5"/><text x="165.89 173.96 180.8 186.76 192.72 199.55 203.4 209.36 217.43 224.27 230.23 237.06" y="540.7">ExecuteEvent</text>
<rect class="g" x="170.67" y="546.1" width="66.67" height="14.5"/><text x="189.99 197.19 203.15 207.01 212.96" y="556.7">Fatal</text>
<rect class="g" x="170.67" y="562.1" width="66.67" height="14.5"/><text x="172.9 180.11 183.96 190.8 197.63 207.44 214.28 218.13 224.09 230.05" y="572.7">FindObject</text>
<rect class="g" x="170.67" y="578.1" width="66.67" height="14.5"/><text x="159.68 169.49 175.45 179.3 189.12 193.34 199.29 209.11 218.92 225.76 229.61 233.46 240.29" y="588.7">GetDrawOption</text>
</g>
<g>
<rect class="g" x="93.33" y="50.1" width="66.67" height="14.5"/><text x="94.08 100.92 109.86 115.82 122.66 132.47 138.43 142.28 148.24 152.09" y="60.7">kCanDelete</text>
<rect class="g" x="93.33" y="66.1" width="66.67" height="14.5"/><text x="91.1 97.93 106.88 112.84 119.67 126.5 133.34 137.19 144.4 148.25 154.21" y="76.7">kCannotPick</text>
<rect class="g" x="93.33" y="82.1" width="66.67" height="14.5"/><text x="95.39 102.22 112.03 117.99 123.09 132.9 142.72 146.94" y="92.7">kHasUUID</text>
<rect class="g" x="93.33" y="98.1" width="66.67" height="14.5"/><text x="85.32 92.16 96.38 103.21 110.04 116 119.86 123.71 130.54 140.36 147.19 151.04 157 162.96" y="108.7">kInvalidObject</text>
<rect class="g" x="93.33" y="114.1" width="66.67" height="14.5"/><text x="95.39 102.22 106.44 111.54 121.35 128.18 138 143.96 149.92" y="124.7">kIsOnHeap</text>
<rect class="g" x="93.33" y="130.1" width="66.67" height="14.5"/><text x="87.57 94.4 98.62 103.72 112.66 118.62 122.84 128.8 133.02 138.98 145.82 151.77 157.73" y="140.7">kIsReferenced</text>
<rect class="g" x="93.33" y="146.1" width="66.67" height="14.5"/><text x="86.19 93.02 104.95 111.78 116.88 120.73 129.68 133.53 139.49 145.45 152.28 159.11" y="156.7">kMustCleanup</text>
<rect class="g" x="93.33" y="162.1" width="66.67" height="14.5"/><text x="90.23 100.04 106 109.85 119.67 123.52 130.35 134.57 144.39 151.22 155.07" y="172.7">GetDtorOnly</text>
<rect class="g" x="93.33" y="178.1" width="66.67" height="14.5"/><text x="88.37 98.19 104.15 108 112.22 118.18 125.01 131.84 141.66 147.62 157.8" y="188.7">GetIconName</text>
<rect class="g" x="93.33" y="194.1" width="66.67" height="14.5"/><text x="100.3 110.11 116.07 119.92 129.74 135.7 145.88" y="204.7">GetName</text>
<rect class="g" x="93.33" y="210.1" width="66.67" height="14.5"/><text x="87.07 96.88 102.84 106.69 116.51 123.34 127.19 133.15 139.11 142.96 147.18 154.02 158.24" y="220.7">GetObjectInfo</text>
<rect class="g" x="93.33" y="226.1" width="66.67" height="14.5"/><text x="87.68 97.5 103.46 107.31 117.12 123.96 127.81 133.77 139.73 143.58 150.79 154.64 160.6" y="236.7">GetObjectStat</text>
<rect class="g" x="93.33" y="242.1" width="66.67" height="14.5"/><text x="97.25 107.06 113.02 116.87 126.69 133.52 137.37 141.22 148.06" y="252.7">GetOption</text>
<rect class="g" x="93.33" y="258.1" width="66.67" height="14.5"/><text x="103.46 113.28 119.23 123.09 131.16 135.01 138.86 142.72" y="268.7">GetTitle</text>
<rect class="g" x="93.33" y="274.1" width="66.67" height="14.5"/><text x="89.18 98.99 104.95 108.8 118.62 125.45 129.3 136.13 142.97 148.93 153.15" y="284.7">GetUniqueID</text>
<rect class="g" x="93.33" y="290.1" width="66.67" height="14.5"/><text x="90.3 100.11 106.07 112.9 119.74 123.59 129.55 137.62 141.47 151.66 157.62" y="300.7">HandleTimer</text>
<rect class="g" x="93.33" y="306.1" width="66.67" height="14.5"/><text x="112.22 122.03 127.99 133.09" y="316.7">Hash</text>
<rect class="d" x="93.33" y="322.1" width="66.67" height="14.5"/><text x="90.73 94.95 105.13 111.97 115.82 123.03 126.88 130.73 136.69 144.76 148.62 155.45" y="332.7">ImplFileLine</text>
<rect class="d" x="93.33" y="338.1" width="66.67" height="14.5"/><text x="87.13 91.35 101.53 108.37 112.22 119.43 123.28 127.13 133.09 142.9 148.86 159.05" y="348.7">ImplFileName</text>
<rect class="g" x="93.33" y="354.1" width="66.67" height="14.5"/><text x="115.01 119.23 126.07 130.29" y="364.7">Info</text>
<rect class="g" x="93.33" y="370.1" width="66.67" height="14.5"/><text x="91.41 95.63 102.47 109.3 115.26 119.48 123.33 127.18 132.28 139.48 143.7 150.54" y="380.7">InheritsFrom</text>
<rect class="g" x="93.33" y="386.1" width="66.67" height="14.5"/><text x="106.69 110.91 117.75 122.84 129.67 135.63 141.59" y="396.7">Inspect</text>
<rect class="g" x="93.33" y="402.1" width="66.67" height="14.5"/><text x="101.78 106 112.84 119.67 125.63 129.85 133.7 142.65 146.5" y="412.7">InvertBit</text>
<rect class="d" x="93.33" y="418.1" width="66.67" height="14.5"/><text x="116.5 120.72 125.82" y="428.7">IsA</text>
<rect class="g" x="93.33" y="434.1" width="66.67" height="14.5"/><text x="105.64 109.86 114.95 123.02 129.86 136.69 142.65" y="444.7">IsEqual</text>
<rect class="g" x="93.33" y="450.1" width="66.67" height="14.5"/><text x="103.96 108.18 113.27 120.48 127.31 131.17 138 143.96" y="460.7">IsFolder</text>
<rect class="g" x="93.33" y="466.1" width="66.67" height="14.5"/><text x="98.8 103.02 108.12 117.93 124.77 134.58 140.54 146.5" y="476.7">IsOnHeap</text>
<rect class="g" x="93.33" y="482.1" width="66.67" height="14.5"/><text x="99.05 103.27 108.37 115.57 122.41 126.63 130.48 136.44 143.27 147.12" y="492.7">IsSortable</text>
<rect class="g" x="93.33" y="498.1" width="66.67" height="14.5"/><text x="100.54 104.76 109.86 117.93 124.76 134.95 141.78 145.63" y="508.7">IsZombie</text>
<rect class="y" x="93.33" y="514.1" width="66.67" height="14.5"/><text x="89.86 101.79 107.75 114.58 120.54 128.61 135.45 145.63 152.46 156.32" y="524.7">MakeZombie</text>
<rect class="g" x="93.33" y="530.1" width="66.67" height="14.5"/><text x="93.02 104.95 110.91 117.74 127.56 134.39 138.24 148.06 153.15" y="540.7">MayNotUse</text>
<rect class="g" x="93.33" y="546.1" width="66.67" height="14.5"/><text x="108.37 118.18 125.01 128.87 132.72 136.94" y="556.7">Notify</text>
<rect class="g" x="93.33" y="562.1" width="66.67" height="14.5"/><text x="101.97 111.78 118.62 123.71 130.54 134.4 140.36 144.21" y="572.7">Obsolete</text>
<rect class="g" x="93.33" y="578.1" width="66.67" height="14.5"/><text x="112.22 119.42 125.38 129.23 136.07" y="588.7">Paint</text>
<rect class="g" x="93.33" y="594.1" width="66.67" height="14.5"/><text x="115.63 122.84 129.67" y="604.7">Pop</text>
</g>
<g>
<rect class="g" x="16" y="50.1" width="66.67" height="14.5"/><text x="-0.34 6.5 16.31 23.14 32.09 38.92 45.76 49.61 55.57 62.4 66.25 78.18 84.14 90.97" y="60.7">kNoContextMenu</text>
<rect class="g" x="16" y="66.1" width="66.67" height="14.5"/><text x="13.95 20.79 30.6 37.43 41.29 51.1 57.06 60.91 66.87 70.72 76.68" y="76.7">kNotDeleted</text>
<rect class="g" x="16" y="82.1" width="66.67" height="14.5"/><text x="9.73 16.56 26.38 33.21 37.06 41.28 48.12 57.06 63.02 69.85 76.69 82.65" y="92.7">kObjInCanvas</text>
<rect class="g" x="16" y="98.1" width="66.67" height="14.5"/><text x="18.06 24.89 34.7 41.54 47.5 51.72 61.53 65.75 69.6 73.46" y="108.7">kOverwrite</text>
<rect class="g" x="16" y="114.1" width="66.67" height="14.5"/><text x="16.75 23.58 30.79 34.64 41.47 48.31 52.16 58.12 67.93 73.89" y="124.7">kSingleKey</text>
<rect class="g" x="16" y="130.1" width="66.67" height="14.5"/><text x="12.28 19.12 31.91 36.13 39.98 43.83 49.79 59.61 65.57 69.42 75.38 79.23" y="140.7">kWriteDelete</text>
<rect class="g" x="16" y="146.1" width="66.67" height="14.5"/><text x="24.45 31.28 39.36 46.19 56.37 63.21 67.06" y="156.7">kZombie</text>
<rect class="d" x="16" y="162.1" width="66.67" height="14.5"/><text x="35.75 42.96 47.18 51.03 57.87" y="172.7">Print</text>
<rect class="g" x="16" y="178.1" width="66.67" height="14.5"/><text x="34.89 43.83 49.79 55.75" y="188.7">Read</text>
<rect class="g" x="16" y="194.1" width="66.67" height="14.5"/><text x="-0.45 8.49 14.45 20.41 27.25 31.47 36.56 40.41 47.25 53.21 62.15 68.11 78.3 85.13 91.96" y="204.7">RecursiveRemove</text>
<rect class="g" x="16" y="210.1" width="66.67" height="14.5"/><text x="25.5 34.45 40.41 45.5 51.46 55.32 64.26 68.11" y="220.7">ResetBit</text>
<rect class="g" x="16" y="226.1" width="66.67" height="14.5"/><text x="28.3 35.51 41.47 48.3 54.26 64.07" y="236.7">SaveAs</text>
<rect class="g" x="16" y="242.1" width="66.67" height="14.5"/><text x="10.85 18.06 24.01 30.85 36.81 44.01 48.23 52.09 62.27 66.12 69.98 73.83 80.66" y="252.7">SavePrimitive</text>
<rect class="g" x="16" y="258.1" width="66.67" height="14.5"/><text x="31.9 39.11 45.07 48.92 57.87 61.72" y="268.7">SetBit</text>
<rect class="g" x="16" y="274.1" width="66.67" height="14.5"/><text x="6.31 13.52 19.48 23.33 33.15 37.37 43.32 53.14 62.95 69.79 73.64 77.49 84.32" y="284.7">SetDrawOption</text>
<rect class="g" x="16" y="290.1" width="66.67" height="14.5"/><text x="14.2 21.41 27.37 31.22 41.03 44.88 51.72 55.94 65.75 72.59 76.44" y="300.7">SetDtorOnly</text>
<rect class="g" x="16" y="306.1" width="66.67" height="14.5"/><text x="11.65 18.86 24.82 28.67 38.49 45.32 49.17 55.13 61.09 64.94 72.15 76 81.96" y="316.7">SetObjectStat</text>
<rect class="g" x="16" y="322.1" width="66.67" height="14.5"/><text x="13.15 20.35 26.31 30.16 39.98 46.81 50.66 57.5 64.33 70.29 74.51" y="332.7">SetUniqueID</text>
<rect class="d" x="16" y="338.1" width="66.67" height="14.5"/><text x="8.3 15.51 22.34 29.18 38.99 50.92 56.88 67.06 73.9 79.85 84.07" y="348.7">ShowMembers</text>
<rect class="d" x="16" y="354.1" width="66.67" height="14.5"/><text x="24.95 32.16 36.01 40.23 46.19 52.15 62.34 68.3" y="364.7">Streamer</text>
<rect class="d" x="16" y="370.1" width="66.67" height="14.5"/><text x="0.85 8.06 11.91 16.13 22.09 28.05 38.24 44.2 48.42 58.23 68.05 71.9 76.12 79.97 86.8 92.76" y="380.7">StreamerNVirtual</text>
<rect class="g" x="16" y="386.1" width="66.67" height="14.5"/><text x="25.38 32.59 39.43 44.52 52.59 56.81 61.03 67.87" y="396.7">SysError</text>
<rect class="g" x="16" y="402.1" width="66.67" height="14.5"/><text x="26.56 34.64 44.45 51.28 55.14 61.1 67.05" y="412.7">TObject</text>
<rect class="g" x="16" y="418.1" width="66.67" height="14.5"/><text x="28.92 36.99 42.95 48.05 51.9 60.85 64.7" y="428.7">TestBit</text>
<rect class="g" x="16" y="434.1" width="66.67" height="14.5"/><text x="26.37 34.45 40.4 45.5 49.35 58.3 62.15 66" y="444.7">TestBits</text>
<rect class="g" x="16" y="450.1" width="66.67" height="14.5"/><text x="4.02 13.83 18.93 24.88 33.83 40.66 44.88 49.1 55.06 61.9 65.75 72.96 76.81 83.64 87.49" y="460.7">UseCurrentStyle</text>
<rect class="g" x="16" y="466.1" width="66.67" height="14.5"/><text x="25.07 37.87 43.82 48.04 54.88 58.73 65.56" y="476.7">Warning</text>
<rect class="g" x="16" y="482.1" width="66.67" height="14.5"/><text x="33.4 46.19 50.41 54.26 58.11" y="492.7">Write</text>
<rect class="d" x="16" y="498.1" width="66.67" height="14.5"/><text x="44.26 48.11" y="508.7">ls</text>
<rect class="g" x="16" y="514.1" width="66.67" height="14.5"/><text x="8.59 15.42 22.26 28.21 32.43 38.39 42.25 49.08 53.3 56.47 63.3 69.26 73.11 79.07 82.92" y="524.7">operator delete</text>
<rect class="g" x="16" y="530.1" width="66.67" height="14.5"/><text x="4.37 11.2 18.04 23.99 28.21 34.17 38.03 44.86 49.08 52.25 59.08 65.04 68.89 74.85 78.7 84.66 88.88" y="540.7">operator delete[]</text>
<rect class="g" x="16" y="546.1" width="66.67" height="14.5"/><text x="13.49 20.33 27.16 33.12 37.34 43.3 47.15 53.98 58.2 61.37 68.2 74.16" y="556.7">operator new</text>
<rect class="g" x="16" y="562.1" width="66.67" height="14.5"/><text x="9.27 16.11 22.94 28.9 33.12 39.08 42.93 49.76 53.98 57.15 63.98 69.94 79.76 83.98" y="572.7">operator new[]</text>
<rect class="d" x="16" y="578.1" width="66.67" height="14.5"/><text x="22.5 29.33 36.17 42.13 46.35 52.3 56.16 62.99 67.21" y="588.7">operator=</text>
<rect class="g" x="16" y="594.1" width="66.67" height="14.5"/><text x="23.21 30.12 38.19 48 54.84 58.69 64.65 70.61" y="604.7"><tspan dy="1.9">~</tspan><tspan dy="-1.9">TObject</tspan></text>
</g>
<polygon points="236.4,47.9 250.4,43.2 250.4,52.6" fill="#000" stroke="#000" stroke-width="0.9" stroke-linejoin="round"/>
<polygon points="468.4,47.9 482.4,43.2 482.4,52.6" fill="#000" stroke="#000" stroke-width="0.9" stroke-linejoin="round"/>
<polygon points="700.4,47.9 714.4,43.2 714.4,52.6" fill="#000" stroke="#000" stroke-width="0.9" stroke-linejoin="round"/>
<polygon points="932.4,47.9 946.4,43.2 946.4,52.6" fill="#000" stroke="#000" stroke-width="0.9" stroke-linejoin="round"/>
</svg>
</body></html>
